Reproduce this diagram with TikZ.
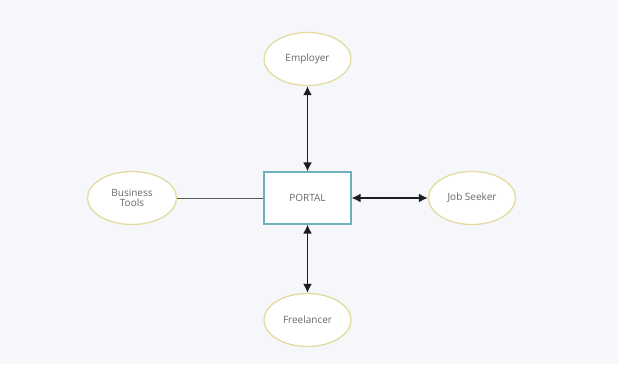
\documentclass[tikz,border=0pt]{standalone}
\usepackage{fontspec}
\setmainfont{Open Sans}
\usetikzlibrary{shapes.geometric,arrows.meta}
\definecolor{bgcol}{HTML}{F6F7FA}
\definecolor{ovalline}{HTML}{E3DBA0}
\definecolor{boxline}{HTML}{6FAFBE}
\definecolor{txtcol}{HTML}{66666E}
\definecolor{linkcol}{HTML}{1E1E22}
\tikzset{
  actor/.style={ellipse, draw=ovalline, line width=1.3pt, fill=white,
    minimum width=87pt, minimum height=53pt, inner sep=0pt,
    text=txtcol, font=\fontsize{10}{12}\selectfont, align=center},
  hub/.style={rectangle, draw=boxline, line width=1.1pt, fill=white,
    minimum width=87pt, minimum height=52pt, inner sep=0pt,
    text=txtcol, font=\fontsize{10}{12}\selectfont},
  twoway/.style={draw=linkcol, line width=1.7pt,
    {Latex[length=9pt,width=9pt]}-{Latex[length=9pt,width=9pt]}},
  plain/.style={draw=gray!70!black, line width=0.9pt}
}
\begin{document}
\begin{tikzpicture}[x=1pt,y=-1pt]
  \fill[bgcol] (0,0) rectangle (618,364);
  \useasboundingbox (0,0) rectangle (618,364);

  \node[hub] (portal) at (307.5,198) {PORTAL};
  \node[actor] (employer) at (307.5,59) {Employer};
  \node[actor] (freelancer) at (307.5,320) {Freelancer};
  \node[actor] (seeker) at (472,198) {Job Seeker};
  \node[actor, minimum width=89pt] (tools) at (132,198) {Business\\[-2pt]Tools};

  \draw[twoway] (employer) -- (portal);
  \draw[twoway] (freelancer) -- (portal);
  \draw[twoway] (portal) -- (seeker);
  \draw[plain] (tools) -- (portal);
\end{tikzpicture}
\end{document}
